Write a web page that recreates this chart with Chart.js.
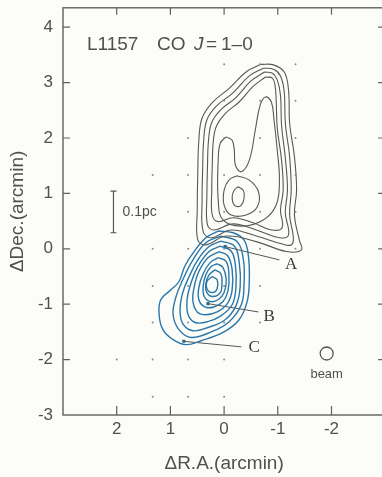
<!DOCTYPE html>
<html>
<head>
<meta charset="utf-8">
<script src="https://cdn.jsdelivr.net/npm/chart.js@4.4.1/dist/chart.umd.min.js"></script>
<style>
  html, body { margin: 0; padding: 0; background: #fcfcf9; overflow: hidden; }
  canvas { display: block; }
</style>
</head>
<body>
<canvas id="graph1" width="393" height="477"></canvas>
<script>
// axis ticks (arcmin)
const xTickValues = [2, 1, 0, -1, -2];
const yTickValues = [-3, -2, -1, 0, 1, 2, 3, 4];

// observed grid points (40" spacing)
const gridDots = [
  [0, 3.33], [-0.67, 3.33], [-1.33, 3.33],
  [0, 2.67], [-0.67, 2.67], [-1.33, 2.67],
  [0.67, 2], [0, 2], [-0.67, 2], [-1.33, 2],
  [1.33, 1.33], [0.67, 1.33], [0, 1.33], [-0.67, 1.33], [-1.33, 1.33],
  [0.67, 0.67], [0, 0.67], [-0.67, 0.67], [-1.33, 0.67],
  [1.33, 0], [0.67, 0], [0, 0], [-0.67, 0], [-1.33, 0],
  [1.33, -0.67], [0.67, -0.67], [0, -0.67], [-0.67, -0.67],
  [1.33, -1.33], [0.67, -1.33], [0, -1.33], [-0.67, -1.33],
  [2, -2], [1.33, -2], [0.67, -2], [0, -2],
  [1.33, -2.67], [0.67, -2.67], [0, -2.67]
];

// red lobe contours (drawn dark)
const red1 = [[-0.69,3.33],[-0.92,3.32],[-1.12,3.19],[-1.20,2.86],[-1.22,2.27],[-1.31,1.66],[-1.35,1.06],[-1.31,0.61],[-1.40,0.16],[-1.44,-0.02],[-1.16,-0.05],[-0.60,0.13],[-0.04,0.23],[0.34,0.07],[0.49,0.16],[0.50,0.70],[0.49,1.37],[0.47,1.96],[0.41,2.36],[0.22,2.64],[-0.10,2.90],[-0.42,3.20]];
const red2 = [[-0.73,3.26],[-0.92,3.24],[-1.05,3.12],[-1.12,2.83],[-1.14,2.27],[-1.22,1.66],[-1.25,1.06],[-1.22,0.61],[-1.29,0.20],[-1.25,0.07],[-1.07,0.09],[-0.60,0.23],[-0.13,0.34],[0.24,0.20],[0.39,0.31],[0.41,0.88],[0.40,1.42],[0.38,1.96],[0.32,2.33],[0.14,2.58],[-0.16,2.81],[-0.47,3.12]];
const red3 = [[-0.75,3.19],[-0.90,3.17],[-0.99,3.05],[-1.05,2.77],[-1.07,2.23],[-1.14,1.64],[-1.18,1.06],[-1.14,0.65],[-1.20,0.25],[-1.03,0.20],[-0.60,0.34],[-0.17,0.45],[0.19,0.34],[0.31,0.43],[0.32,0.97],[0.31,1.46],[0.29,1.96],[0.23,2.28],[0.06,2.51],[-0.22,2.73],[-0.50,3.03]];
const red4 = [[-0.77,3.10],[-0.90,3.08],[-0.95,2.94],[-0.97,2.68],[-0.99,2.18],[-1.07,1.60],[-1.10,1.06],[-1.05,0.70],[-1.08,0.38],[-0.88,0.34],[-0.54,0.47],[-0.17,0.56],[0.11,0.49],[0.22,0.61],[0.23,1.06],[0.22,1.51],[0.20,1.96],[0.14,2.22],[-0.02,2.44],[-0.28,2.65],[-0.54,2.93]];
const red5 = [[-0.04,2.02],[-0.15,1.96],[-0.19,1.78],[-0.21,1.51],[-0.32,1.39],[-0.47,1.60],[-0.58,2.14],[-0.67,2.59],[-0.77,2.74],[-0.88,2.65],[-0.93,2.32],[-0.99,1.78],[-1.03,1.24],[-0.97,0.79],[-0.73,0.52],[-0.32,0.41],[0.02,0.52],[0.11,0.88],[0.11,1.60],[0.07,1.91]];
const red6 = [[-0.24,1.32],[-0.47,1.24],[-0.64,1.03],[-0.62,0.76],[-0.41,0.61],[-0.13,0.61],[0.00,0.79],[0.00,1.06],[-0.09,1.24]];
const red7 = [[-0.26,1.12],[-0.36,1.05],[-0.37,0.90],[-0.30,0.77],[-0.19,0.79],[-0.15,0.94],[-0.19,1.06]];

// blue lobe contours
const blue1 = [[0.11,0.32],[-0.17,0.29],[-0.37,0.16],[-0.45,-0.11],[-0.47,-0.56],[-0.43,-0.95],[-0.28,-1.28],[0.02,-1.51],[0.43,-1.66],[0.71,-1.73],[0.95,-1.64],[1.14,-1.46],[1.21,-1.19],[1.18,-0.92],[0.99,-0.74],[0.84,-0.59],[0.73,-0.31],[0.56,-0.05],[0.34,0.20]];
const blue2 = [[0.06,0.23],[-0.24,0.13],[-0.36,-0.20],[-0.37,-0.65],[-0.32,-1.01],[-0.09,-1.32],[0.24,-1.50],[0.62,-1.60],[0.84,-1.46],[0.95,-1.19],[0.90,-0.88],[0.77,-0.56],[0.58,-0.20],[0.34,0.11]];
const blue3 = [[0.06,0.14],[-0.19,0.05],[-0.28,-0.23],[-0.30,-0.68],[-0.22,-1.03],[-0.02,-1.28],[0.30,-1.42],[0.58,-1.48],[0.77,-1.35],[0.82,-1.10],[0.77,-0.79],[0.65,-0.50],[0.49,-0.20],[0.28,0.04]];
const blue4 = [[0.07,0.05],[-0.13,-0.04],[-0.21,-0.29],[-0.22,-0.70],[-0.15,-1.01],[0.06,-1.21],[0.32,-1.32],[0.54,-1.33],[0.67,-1.19],[0.69,-0.92],[0.62,-0.63],[0.50,-0.34],[0.28,-0.05]];
const blue5 = [[0.09,-0.05],[-0.07,-0.13],[-0.15,-0.38],[-0.15,-0.74],[-0.06,-0.99],[0.13,-1.14],[0.34,-1.19],[0.50,-1.14],[0.58,-0.95],[0.56,-0.70],[0.47,-0.41],[0.30,-0.16]];
const blue6 = [[0.11,-0.16],[-0.04,-0.23],[-0.09,-0.47],[-0.07,-0.77],[0.02,-0.95],[0.19,-1.05],[0.36,-1.05],[0.47,-0.92],[0.47,-0.70],[0.39,-0.45],[0.26,-0.25]];
const blue7 = [[0.13,-0.27],[0.02,-0.34],[-0.04,-0.56],[0.00,-0.79],[0.11,-0.92],[0.26,-0.95],[0.37,-0.86],[0.39,-0.68],[0.34,-0.47],[0.24,-0.32]];
const blue8 = [[0.17,-0.38],[0.06,-0.45],[0.04,-0.63],[0.07,-0.79],[0.21,-0.86],[0.32,-0.79],[0.34,-0.63],[0.28,-0.47]];
const blue9 = [[0.22,-0.50],[0.13,-0.56],[0.13,-0.72],[0.22,-0.79],[0.32,-0.72],[0.32,-0.59]];

// positions A, B, C with leader ends and label spots
const markNames = ['A', 'B', 'C'];
const markPos = [[-0.02, 0.04], [0.30, -0.99], [0.75, -1.67]];
const leaderEnd = [[-1.03, -0.20], [-0.64, -1.14], [-0.32, -1.77]];
const labelPos = [[-1.25, -0.29], [-0.84, -1.23], [-0.56, -1.78]];

const beamPos = [-1.91, -1.89];
const scaleBar = [2.06, 1.04, 0.29]; // x, top, bottom (0.1 pc)

const redColor = '#555a53';
const blueColor = '#2a78ab';

const pts = a => a.map(([x, y]) => ({x: x, y: y}));
const closed = a => pts(a.concat([a[0]]));

const contour = (arr, color, width) => ({
  data: closed(arr),
  showLine: true,
  borderColor: color,
  borderWidth: width,
  pointRadius: 0,
  tension: 0.4,
  fill: false
});

const datasets = [
  { data: pts(gridDots), pointRadius: 1, backgroundColor: '#8a8a8a', borderWidth: 0 }
];
[red1, red2, red3, red4, red5, red6, red7].forEach(c => datasets.push(contour(c, redColor, 1.1)));
[blue1, blue2, blue3, blue4, blue5, blue6, blue7, blue8, blue9].forEach(c => datasets.push(contour(c, blueColor, 1.4)));
markPos.forEach((p, i) => {
  datasets.push({
    data: pts([p, leaderEnd[i]]), showLine: true, borderColor: '#555', borderWidth: 1,
    pointRadius: 0, tension: 0
  });
});
datasets.push({ data: pts(markPos), pointStyle: 'rect', pointRadius: 2.2, backgroundColor: '#1f6a9c', borderWidth: 0 });
datasets.push({ data: pts([beamPos]), pointRadius: 6.5, backgroundColor: 'rgba(0,0,0,0)', borderColor: '#555', borderWidth: 1.3 });

const textColor = '#505050';

const framePlugin = {
  id: 'frame',
  afterDraw(chart) {
    const {ctx, chartArea: a, scales: {x, y}} = chart;
    ctx.save();
    ctx.strokeStyle = '#606060';
    ctx.lineWidth = 1.4;
    ctx.strokeRect(a.left, a.top, a.right - a.left, a.bottom - a.top);
    // inward ticks
    ctx.lineWidth = 1.2;
    ctx.beginPath();
    yTickValues.forEach(v => {
      if (v === -3) return;
      const py = y.getPixelForValue(v);
      ctx.moveTo(a.left, py); ctx.lineTo(a.left + 7, py);
      ctx.moveTo(a.right, py); ctx.lineTo(a.right - 7, py);
    });
    xTickValues.forEach(v => {
      const px = x.getPixelForValue(v);
      ctx.moveTo(px, a.bottom); ctx.lineTo(px, a.bottom - 9);
      ctx.moveTo(px, a.top); ctx.lineTo(px, a.top + 7);
    });
    ctx.stroke();

    // scale bar
    const bx = x.getPixelForValue(scaleBar[0]);
    const bt = y.getPixelForValue(scaleBar[1]);
    const bb = y.getPixelForValue(scaleBar[2]);
    ctx.strokeStyle = '#555';
    ctx.lineWidth = 1.2;
    ctx.beginPath();
    ctx.moveTo(bx, bt); ctx.lineTo(bx, bb);
    ctx.moveTo(bx - 3, bt); ctx.lineTo(bx + 3, bt);
    ctx.moveTo(bx - 3, bb); ctx.lineTo(bx + 3, bb);
    ctx.stroke();

    ctx.fillStyle = textColor;
    ctx.textBaseline = 'middle';
    ctx.textAlign = 'left';
    ctx.font = '14px "Liberation Sans", Arial, sans-serif';
    ctx.fillText('0.1pc', bx + 9, (bt + bb) / 2);

    // title
    ctx.font = '19px "Liberation Sans", Arial, sans-serif';
    ctx.fillText('L1157', 87, 45);
    ctx.fillText('CO', 157, 45);
    ctx.fillText('=', 206, 45);
    ctx.fillText('1\u20130', 221, 45);
    ctx.font = 'italic 19px "Liberation Sans", Arial, sans-serif';
    ctx.fillText('J', 194, 45);

    // beam label
    ctx.textAlign = 'center';
    ctx.font = '13px "Liberation Sans", Arial, sans-serif';
    ctx.fillText('beam', x.getPixelForValue(beamPos[0]), y.getPixelForValue(beamPos[1]) + 21);

    // A, B, C
    ctx.fillStyle = '#3a3a3a';
    ctx.font = '17px "Liberation Serif", "Times New Roman", serif';
    labelPos.forEach((p, i) => {
      ctx.fillText(markNames[i], x.getPixelForValue(p[0]), y.getPixelForValue(p[1]));
    });
    ctx.restore();
  }
};

const chartElement = document.getElementById('graph1');
const ctx = chartElement.getContext('2d');

const options = {
  responsive: false,
  animation: false,
  layout: { padding: { top: 7, right: 2, left: 0, bottom: 0 } },
  plugins: { legend: { display: false }, tooltip: { enabled: false } },
  scales: {
    x: {
      type: 'linear',
      min: -3,
      max: 3,
      reverse: true,
      afterFit: s => { s.height = 62; s.paddingLeft = 0; s.paddingRight = 0; },
      grid: { display: false, drawTicks: false },
      border: { display: false },
      ticks: {
        stepSize: 1,
        autoSkip: false,
        maxRotation: 0,
        padding: 4,
        color: textColor,
        font: { family: '"Liberation Sans", Arial, sans-serif', size: 17 },
        callback: v => (Math.abs(v) >= 3 ? '' : String(v))
      },
      title: {
        display: true,
        text: '\u0394R.A.(arcmin)',
        color: textColor,
        font: { family: '"Liberation Sans", Arial, sans-serif', size: 19 },
        padding: { top: 0, bottom: 2 }
      }
    },
    y: {
      type: 'linear',
      min: -3,
      max: 4.35,
      afterFit: s => { s.width = 63; s.paddingTop = 0; s.paddingBottom = 0; },
      grid: { display: false, drawTicks: false },
      border: { display: false },
      ticks: {
        stepSize: 1,
        includeBounds: false,
        padding: 10,
        color: textColor,
        font: { family: '"Liberation Sans", Arial, sans-serif', size: 17 }
      },
      title: {
        display: true,
        text: '\u0394Dec.(arcmin)',
        color: textColor,
        font: { family: '"Liberation Sans", Arial, sans-serif', size: 19 },
        padding: { top: 6, bottom: 0 }
      }
    }
  }
};

const chart = new Chart(ctx, {
  type: 'scatter',
  data: { datasets: datasets },
  options: options,
  plugins: [framePlugin]
});
</script>
</body>
</html>
